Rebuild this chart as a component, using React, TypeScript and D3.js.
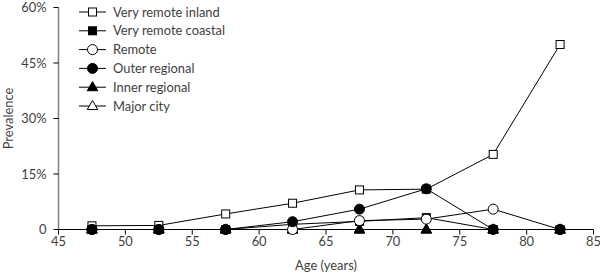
import React from 'react';
import * as d3 from 'd3';

const ages = [47.5, 52.5, 57.5, 62.5, 67.5, 72.5, 77.5, 82.5];
const veryRemoteInland = [1.0, 1.1, 4.2, 7.1, 10.7, 10.9, 20.3, 50.0];
const veryRemoteCoastal = [0, 0, 0, 1.4, 2.2, 3.2, 0, 0];
const remote = [0, 0, 0, 0, 2.4, 2.8, 5.5, 0];
const outerRegional = [0, 0, 0, 2.1, 5.5, 11.0, 0, 0];
const innerRegional = [0, 0, 0, 0, 0, 0, 0, 0];
const majorCity = [0, 0, 0, 0, 0, 0, 0, 0];
const xTicks = [45, 50, 55, 60, 65, 70, 75, 80, 85];
const yTicks = [0, 15, 30, 45, 60];

type Shape = 'square' | 'circle' | 'triangle';
const series: { name: string; values: number[]; shape: Shape; filled: boolean }[] = [
  { name: 'Very remote inland', values: veryRemoteInland, shape: 'square', filled: false },
  { name: 'Very remote coastal', values: veryRemoteCoastal, shape: 'square', filled: true },
  { name: 'Remote', values: remote, shape: 'circle', filled: false },
  { name: 'Outer regional', values: outerRegional, shape: 'circle', filled: true },
  { name: 'Inner regional', values: innerRegional, shape: 'triangle', filled: true },
  { name: 'Major city', values: majorCity, shape: 'triangle', filled: false },
];
const drawOrder = [5, 4, 0, 1, 2, 3];

const x = d3.scaleLinear().domain([45, 85]).range([58.5, 593.5]);
const y = d3.scaleLinear().domain([0, 60]).range([229.5, 7.5]);
const font = 'Lato, "Open Sans", sans-serif';
const textColor = '#3f3f3f';
const fs = 12.9;

function Marker({ shape, filled, cx, cy }: { shape: Shape; filled: boolean; cx: number; cy: number }) {
  const fill = filled ? '#000' : '#fff';
  if (shape === 'square') {
    return <rect x={cx - 4} y={cy - 4} width={8} height={8} fill={fill} stroke="#000" strokeWidth={1} />;
  }
  if (shape === 'circle') {
    return <circle cx={cx} cy={cy} r={5} fill={fill} stroke="#000" strokeWidth={1} />;
  }
  const p = d3.symbol().type(d3.symbolTriangle).size(48)();
  return <path d={p as string} transform={`translate(${cx},${cy + 0.5})`} fill={fill} stroke="#000" strokeWidth={1} />;
}

export default function App() {
  const line = d3
    .line<number>()
    .x((_, i) => x(ages[i]))
    .y((v) => y(v));
  const legendX0 = 79;
  const legendX1 = 106;
  const legendY0 = 12;
  const legendStep = 18.8;
  return (
    <svg width={600} height={275} style={{ position: 'absolute', left: 0, top: 0, background: '#fff' }}>
      {/* y axis */}
      <line x1={x(45)} x2={x(45)} y1={y(60)} y2={y(0)} stroke="#7f7f7f" strokeWidth={1.5} />
      {yTicks.map((t) => (
        <g key={t}>
          <line x1={x(45) - 5} x2={x(45)} y1={y(t)} y2={y(t)} stroke="#000" strokeWidth={1} />
          <text x={x(45) - 12} y={y(t)} dy="0.35em" textAnchor="end" fontFamily={font} fontSize={fs} fill={textColor}>
            {t === 0 ? '0' : `${t}%`}
          </text>
        </g>
      ))}
      <text
        transform={`translate(13,${(y(0) + y(60)) / 2}) rotate(-90)`}
        textAnchor="middle"
        fontFamily={font}
        fontSize={fs}
        fill={textColor}
      >
        Prevalence
      </text>
      {/* x axis */}
      <line x1={x(45)} x2={x(85)} y1={y(0)} y2={y(0)} stroke="#000" strokeWidth={1} />
      {xTicks.map((t) => (
        <g key={t}>
          <line x1={x(t)} x2={x(t)} y1={y(0)} y2={y(0) + 5} stroke="#000" strokeWidth={1} />
          <text x={x(t)} y={y(0) + 16} textAnchor="middle" fontFamily={font} fontSize={fs} fill={textColor}>
            {t}
          </text>
        </g>
      ))}
      <text x={(x(45) + x(85)) / 2} y={270} textAnchor="middle" fontFamily={font} fontSize={fs} fill={textColor}>
        Age (years)
      </text>
      {/* series */}
      {drawOrder.map((si) => {
        const s = series[si];
        return (
          <g key={s.name}>
            <path d={line(s.values) as string} fill="none" stroke="#000" strokeWidth={1} />
            {s.values.map((v, i) => (
              <Marker key={i} shape={s.shape} filled={s.filled} cx={x(ages[i])} cy={y(v)} />
            ))}
          </g>
        );
      })}
      {/* legend */}
      {series.map((s, i) => {
        const ly = legendY0 + i * legendStep;
        return (
          <g key={s.name}>
            <line x1={legendX0} x2={legendX1} y1={ly} y2={ly} stroke="#000" strokeWidth={1} />
            <Marker shape={s.shape} filled={s.filled} cx={(legendX0 + legendX1) / 2} cy={ly} />
            <text x={113} y={ly} dy="0.35em" fontFamily={font} fontSize={fs} fill={textColor}>
              {s.name}
            </text>
          </g>
        );
      })}
    </svg>
  );
}
